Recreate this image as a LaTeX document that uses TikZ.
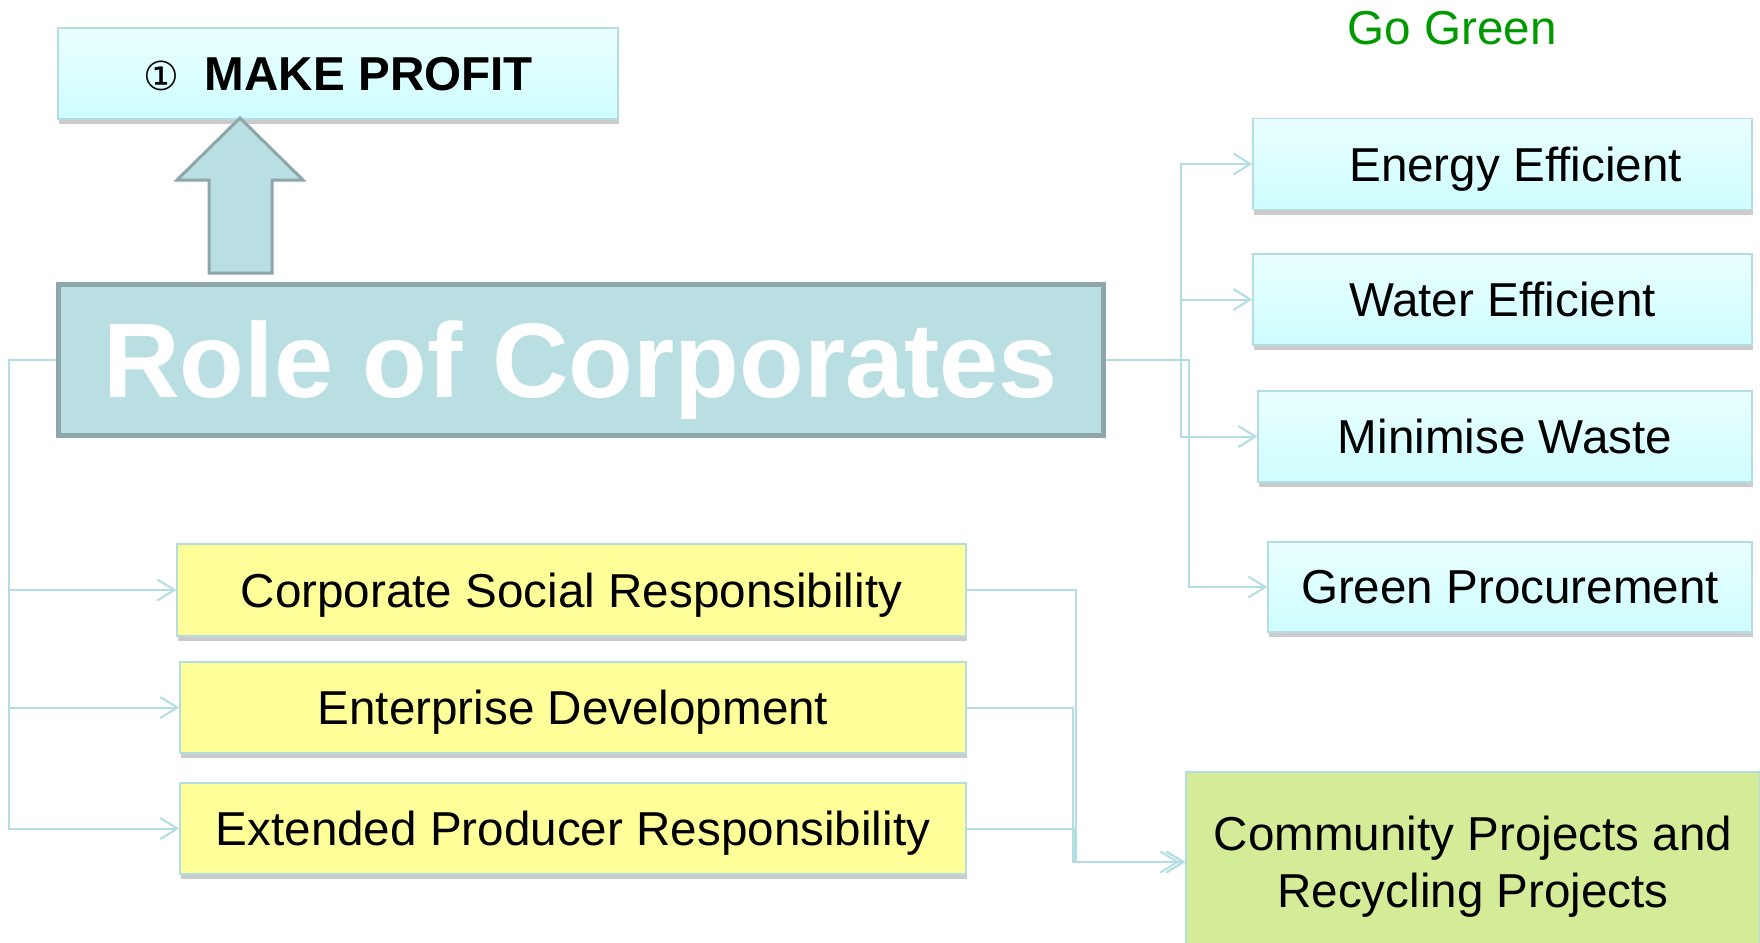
\documentclass[tikz,border=0pt]{standalone}
\usepackage{fontspec}
\setmainfont{Liberation Sans}
\newfontfamily\symfont{DejaVu Sans}
\usetikzlibrary{arrows.meta, shadows}

\definecolor{cyantop}{HTML}{EAFFFF}
\definecolor{cyanbot}{HTML}{CEFDFF}
\definecolor{boxedge}{HTML}{B4DDE2}
\definecolor{lemon}{HTML}{FFFF99}
\definecolor{lime}{HTML}{D4EC97}
\definecolor{rolefill}{HTML}{BADFE2}
\definecolor{roleedge}{HTML}{8CA6A9}
\definecolor{connblue}{HTML}{B2DDE2}
\definecolor{gogreen}{HTML}{009A00}

\tikzset{
  boxbase/.style={draw=boxedge, line width=1.5pt, inner sep=0pt, minimum height=91pt, text depth=0pt,
    font=\fontsize{47.6}{57}\selectfont,
    drop shadow={shadow xshift=1pt, shadow yshift=-5pt, fill=black!45, opacity=0.45}},
  cyanbox/.style={boxbase, top color=cyantop, bottom color=cyanbot},
  lemonbox/.style={boxbase, fill=lemon},
  conn/.style={draw=connblue, line width=2pt, -{Straight Barb[length=17pt,width=21pt]}},
}

\begin{document}
\begin{tikzpicture}[x=1pt,y=-1pt]
  \useasboundingbox (0,0) rectangle (1760,942);

  \node[cyanbox, minimum width=560pt] (profit) at (338,73.5)
    {{\symfont\fontsize{40}{48}\selectfont ①}\hspace{26pt}\textbf{MAKE PROFIT}};
  \fill[rolefill] (209,273)-- (209,180)-- (177,180)-- (240,118)-- (303,180)-- (272,180)-- (272,273)--cycle;
  \draw[roleedge, line width=3pt] (209,273)-- (209,180)-- (177,180)-- (240,118)-- (303,180)-- (272,180)-- (272,273)--cycle;

  \node[draw=roleedge, fill=rolefill, line width=5pt, inner sep=0pt, minimum width=1045pt, text depth=0pt,
    minimum height=151pt, text=white, font=\fontsize{106}{120}\selectfont\bfseries] (role) at (580.5,359.5) {Role of Corporates};

  \node[text=gogreen, font=\fontsize{47.6}{57}\selectfont] (gogreen) at (1452,28) {Go Green};
  \node[cyanbox, minimum width=499pt] (energy) at (1502.5,164) {\hspace{26pt}Energy Efficient};
  \node[cyanbox, minimum width=499pt] (water) at (1502.5,299.5) {Water Efficient};
  \node[cyanbox, minimum width=494pt] (waste) at (1505,436.5) {Minimise Waste};
  \node[cyanbox, minimum width=484pt, minimum height=90pt] (procure) at (1510,587) {Green Procurement};

  \node[lemonbox, minimum width=789pt, minimum height=92pt] (csr) at (571.5,590) {Corporate Social Responsibility};
  \node[lemonbox, minimum width=786pt] (ed) at (573,707.5) {Enterprise Development};
  \node[lemonbox, minimum width=786pt] (epr) at (573,828.5) {Extended Producer Responsibility};

  \node[draw=boxedge, line width=1.5pt, fill=lime, inner sep=0pt, minimum width=574pt, minimum height=180pt,
    align=center, text depth=0pt, font=\fontsize{47.6}{57}\selectfont] (comm) at (1473,862) {Community Projects and\\Recycling Projects};

  \draw[conn] (role.west) -- ++(-47,0) |- (csr.west);
  \draw[conn] (role.west) -- ++(-47,0) |- (ed.west);
  \draw[conn] (role.west) -- ++(-47,0) |- (epr.west);

  \draw[conn] (role.east) -- ++(75,0) |- (energy.west);
  \draw[conn] (role.east) -- ++(75,0) |- (water.west);
  \draw[conn] (role.east) -- ++(75,0) |- (waste.west);
  \draw[conn] (role.east) -- ++(83,0) |- (procure.west);

  \draw[conn] (csr.east) -- ++(109,0) |- (comm.west);
  \draw[conn, shorten >=6pt] (ed.east) -- ++(106,0) |- (comm.west);
  \draw[conn] (epr.east) -- ++(108,0) |- (comm.west);
\end{tikzpicture}
\end{document}
